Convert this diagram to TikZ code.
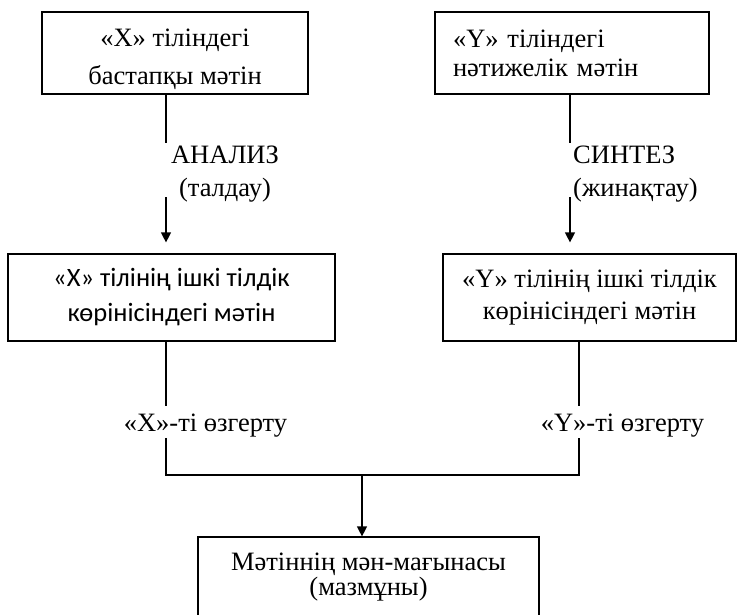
\documentclass[tikz,border=0pt]{standalone}
\usepackage{fontspec}
\setmainfont{Liberation Serif}
\newfontfamily\calibri{Carlito}
\usetikzlibrary{arrows.meta}

\begin{document}
\begin{tikzpicture}[x=1pt, y=-1pt,
    box/.style={draw, line width=1.2pt, inner sep=0pt, align=center},
    note/.style={inner sep=0pt},
    link/.style={line width=1.2pt},
    flow/.style={line width=1.2pt, -{Triangle[length=10pt, width=10pt]}}]
    \useasboundingbox (0,0) rectangle (737,614);

    % Texts in language X and Y
    \node[box, minimum width=266pt, minimum height=82pt,
        font=\fontsize{26.5}{38}\selectfont] (src) at (175,53)
        {\rule{0pt}{30pt}«X» тіліндегі\\бастапқы мәтін};
    \node[box, minimum height=82pt, text width=238pt, inner xsep=18pt, align=left,
        font=\fontsize{26.5}{29}\selectfont] (res) at (572,53)
        {«Y» тіліндегі\\нәтижелік мәтін};

    % Analysis and synthesis
    \node[note, align=center, font=\fontsize{26.5}{33}\selectfont] (ana) at (225,174)
        {АНАЛИЗ\\(талдау)};
    \node[note, align=left, anchor=west, font=\fontsize{26.5}{33}\selectfont] (syn) at (573,174)
        {СИНТЕЗ\\(жинақтау)};

    % Inner representations
    \node[box, minimum width=327pt, minimum height=87pt,
        font=\calibri\fontsize{26.5}{35}\selectfont] (inX) at (171.5,297.5)
        {«X» тілінің ішкі тілдік\\көрінісіндегі мәтін};
    \node[box, minimum width=293pt, minimum height=87pt,
        font=\fontsize{26.5}{32}\selectfont] (inY) at (589.5,297.5)
        {«Y» тілінің ішкі тілдік\\көрінісіндегі мәтін};

    % Transformations
    \node[note, font=\fontsize{26.5}{30}\selectfont] (chX) at (205.5,426) {«X»-ті өзгерту};
    \node[note, font=\fontsize{26.5}{30}\selectfont] (chY) at (622.5,426) {«Y»-ті өзгерту};

    % Meaning of the text
    \node[box, minimum width=341pt, minimum height=80pt,
        font=\fontsize{26.5}{25}\selectfont] (sense) at (368.5,577)
        {Мәтіннің мән-мағынасы\\(мазмұны)};

    % Connectors
    \coordinate (lx) at (166,0);
    \coordinate (rx) at (570,0);
    \coordinate (ry) at (579,0);
    \coordinate (mrg) at (362,475);
    \draw[link] (src.south -| lx) -- ([yshift=3pt]ana.north -| lx);
    \draw[flow] ([yshift=5pt]ana.south -| lx) -- ([yshift=11pt]inX.north -| lx);
    \draw[link] (res.south -| rx) -- ([yshift=3pt]syn.north -| rx);
    \draw[flow] ([yshift=5pt]syn.south -| rx) -- ([yshift=11pt]inY.north -| rx);
    \draw[link] (inX.south -| lx) -- ([yshift=8pt]chX.north -| lx);
    \draw[link] (inY.south -| ry) -- ([yshift=8pt]chY.north -| ry);
    \draw[link] (chX.south -| lx) |- (mrg) -| (chY.south -| ry);
    \draw[flow] (mrg) -- (sense.north -| mrg);
\end{tikzpicture}
\end{document}
